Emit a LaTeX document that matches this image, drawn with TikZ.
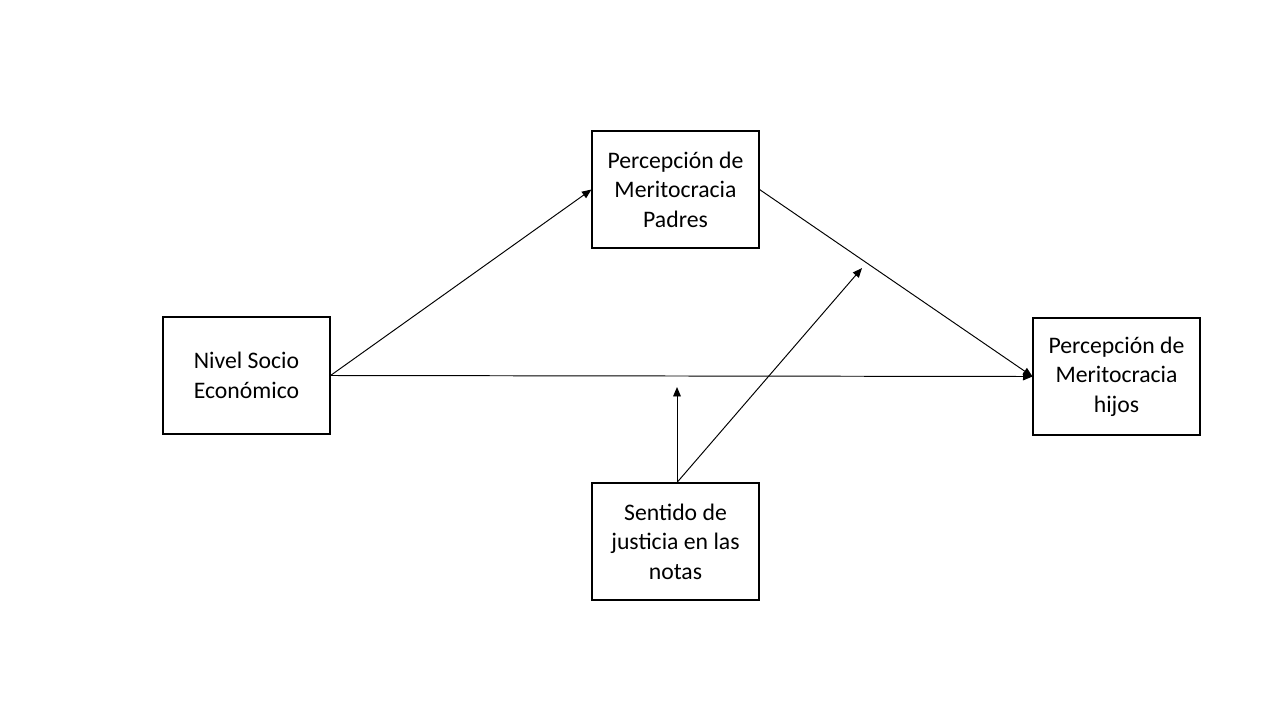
\documentclass[tikz,border=0pt]{standalone}
\usepackage{fontspec}
\setmainfont{Carlito}
\usetikzlibrary{arrows.meta}
\begin{document}
\begin{tikzpicture}[x=0.02cm,y=-0.02cm,
  box/.style={draw=black,line width=0.6pt,minimum width=167*0.02cm,minimum height=117*0.02cm,align=center,inner sep=2pt,font=\fontsize{13.5}{16.8}\selectfont},
  conn/.style={line width=0.55pt,-{Triangle[length=5.4pt,width=4.4pt]}}]
\useasboundingbox (0,0) rectangle (1280,720);
\node[box] (padres) at (675.5,189.5) {Percepción de\\Meritocracia\\Padres};
\node[box] (nse) at (246.5,375.5) {Nivel Socio\\Económico};
\node[box] (hijos) at (1116.5,376.5) {Percepción de\\Meritocracia\\hijos};
\node[box] (justicia) at (675.5,541.5) {Sentido de\\justicia en las\\notas};
\coordinate (m1) at (677,387);
\coordinate (m2) at (862,268);
\coordinate (js) at (justicia.north -| m1);
\draw[conn] (nse.east) -- (padres.west);
\draw[conn] (padres.east) -- (hijos.west);
\draw[conn] (nse.east) -- (hijos.west);
\draw[conn] (js) -- (m1);
\draw[conn] (js) -- (m2);
\end{tikzpicture}
\end{document}
